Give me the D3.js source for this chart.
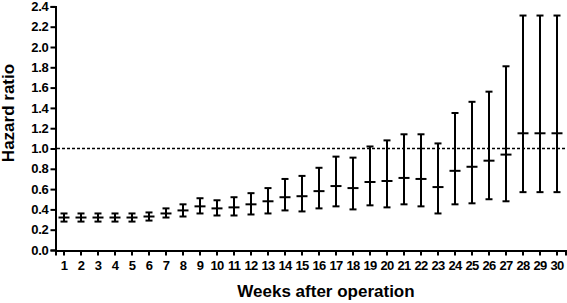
<!DOCTYPE html>
<html>
<head>
<meta charset="utf-8">
<script src="https://cdn.jsdelivr.net/npm/d3@7"></script>
<style>
  html, body { margin: 0; padding: 0; background: #fff; }
  svg { display: block; }
  text { font-family: "Liberation Sans", Arial, sans-serif; font-weight: bold; fill: #000; }
</style>
</head>
<body>
<svg id="chart" width="567" height="303"></svg>
<script>
const weeks = d3.range(1, 31).map(String);
const hazard = [0.32,0.32,0.32,0.32,0.32,0.33,0.36,0.39,0.43,0.41,0.42,0.45,0.48,0.52,0.53,0.58,0.63,0.61,0.67,0.68,0.71,0.70,0.62,0.78,0.82,0.88,0.94,1.15,1.15,1.15];
const lower  = [0.28,0.28,0.28,0.28,0.28,0.29,0.32,0.33,0.36,0.34,0.34,0.35,0.36,0.39,0.38,0.41,0.43,0.40,0.44,0.42,0.45,0.43,0.36,0.45,0.46,0.50,0.48,0.57,0.57,0.57];
const upper  = [0.36,0.36,0.36,0.36,0.36,0.37,0.41,0.45,0.51,0.49,0.52,0.56,0.61,0.70,0.73,0.81,0.92,0.91,1.02,1.08,1.14,1.14,1.05,1.35,1.46,1.56,1.81,2.31,2.31,2.31];
const yTicks = [0,0.2,0.4,0.6,0.8,1.0,1.2,1.4,1.6,1.8,2.0,2.2,2.4];
const refLine = 1.0;

const svg = d3.select("#chart");
const x = d3.scaleBand().domain(weeks).range([55.5, 565.5]).padding(0);
const y = d3.scaleLinear().domain([0, 2.4]).range([250, 6.4]);
const tickFont = '"Liberation Sans", Arial, sans-serif';

// Y axis
const yAxis = svg.append("g").attr("transform", "translate(55.5,0)")
  .call(d3.axisLeft(y).tickValues(yTicks).tickFormat(d3.format(".1f")).tickSize(5).tickPadding(2));
yAxis.select(".domain").attr("stroke", "#000").attr("stroke-width", 2);
yAxis.selectAll(".tick line").attr("stroke", "#000").attr("stroke-width", 2);
yAxis.selectAll("text").attr("font-size", 13).style("font-family", tickFont).style("font-weight", "bold").attr("letter-spacing", -0.3);

// X axis
const xAxis = svg.append("g").attr("transform", "translate(0,250.5)")
  .call(d3.axisBottom(x).tickSizeOuter(0).tickSize(5).tickPadding(5));
xAxis.select(".domain").attr("stroke", "#000").attr("stroke-width", 2);
xAxis.selectAll(".tick line").attr("stroke", "#000").attr("stroke-width", 2);
xAxis.selectAll("text").attr("font-size", 13).style("font-family", tickFont).style("font-weight", "bold").attr("letter-spacing", -0.8);

// Reference dashed line
svg.append("line")
  .attr("x1", 57).attr("x2", 565)
  .attr("y1", y(refLine)).attr("y2", y(refLine))
  .attr("stroke", "#000").attr("stroke-width", 1.5).attr("stroke-dasharray", "3,2");

// Error bars
const data = weeks.map((w, i) => ({w, h: hazard[i], lo: lower[i], hi: upper[i]}));
const g = svg.append("g").attr("stroke", "#000").attr("stroke-width", 2);
const cx = d => x(d.w) + x.bandwidth() / 2;
g.selectAll(".v").data(data).join("line")
  .attr("x1", cx).attr("x2", cx).attr("y1", d => y(d.lo)).attr("y2", d => y(d.hi));
g.selectAll(".capT").data(data).join("line")
  .attr("x1", d => cx(d) - 3.5).attr("x2", d => cx(d) + 3.5).attr("y1", d => y(d.hi)).attr("y2", d => y(d.hi));
g.selectAll(".capB").data(data).join("line")
  .attr("x1", d => cx(d) - 3.5).attr("x2", d => cx(d) + 3.5).attr("y1", d => y(d.lo)).attr("y2", d => y(d.lo));
g.selectAll(".mid").data(data).join("line")
  .attr("x1", d => cx(d) - 5.5).attr("x2", d => cx(d) + 5.5).attr("y1", d => y(d.h)).attr("y2", d => y(d.h));

// Axis titles
svg.append("text").attr("x", 326).attr("y", 297).attr("text-anchor", "middle")
  .attr("font-size", 17).text("Weeks after operation");
svg.append("text").attr("transform", "translate(14,113) rotate(-90)").attr("text-anchor", "middle")
  .attr("font-size", 17).text("Hazard ratio");
</script>
</body>
</html>
